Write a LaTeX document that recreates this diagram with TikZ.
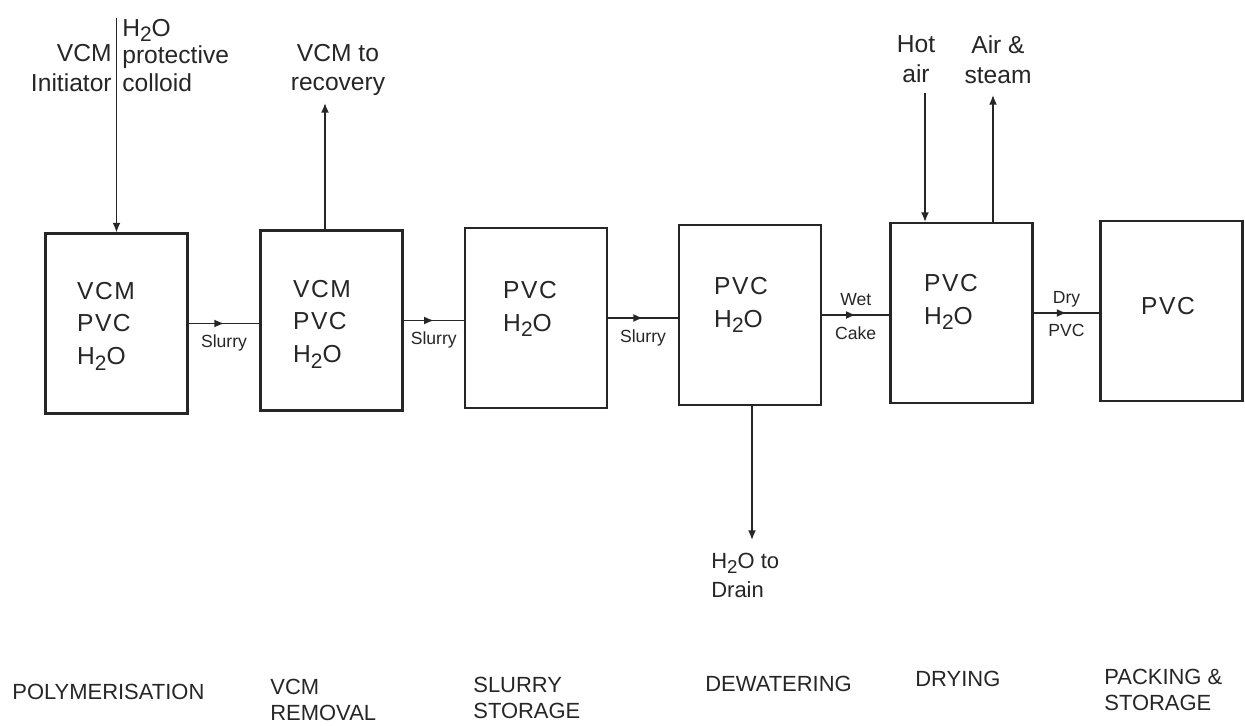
\documentclass[tikz,border=0pt]{standalone}
\usepackage{fontspec}
\setmainfont{Liberation Sans}
\newfontfamily\boxfont[LetterSpace=6]{Liberation Sans}
\usetikzlibrary{arrows.meta, decorations.markings}
\newcommand{\water}{H\raisebox{-0.4ex}{\scalebox{0.85}{2}}O}

\begin{document}
\begin{tikzpicture}[x=0.02cm, y=-0.02cm,
    stage/.style={draw=black!85, line width=1.2pt, minimum width=2.84cm, minimum height=3.6cm, inner sep=0pt},
    contents/.style={text=black!85, align=left, inner sep=0pt, font=\boxfont\fontsize{14}{18.7}\selectfont},
    feed/.style={text=black!85, inner sep=0pt, font=\fontsize{14}{17}\selectfont},
    flowlbl/.style={text=black!85, inner sep=0pt, text depth=0pt, font=\fontsize{10}{12}\selectfont},
    stagename/.style={text=black!85, inner sep=0pt, anchor=north west, align=left, font=\fontsize{12.5}{14.7}\selectfont},
    flow/.style={draw=black!85, line width=0.85pt},
    midarrow/.style={flow, postaction={decorate}, decoration={markings, mark=at position 0.5 with {\arrow{Latex[length=5.5pt,width=4.5pt]}}}},
    inflow/.style={flow, -{Latex[length=5.5pt,width=4.5pt]}}]
    \fill[white] (0,0) rectangle (1245,726);
    \useasboundingbox (0,0) rectangle (1245,726);

    % process units (the scan is slightly tilted, so each box sits a bit higher)
    \node[stage] (b1) at (116.5,323.5) {};
    \node[stage] (b2) at (331.5,320.5) {};
    \node[stage] (b3) at (536,318) {};
    \node[stage] (b4) at (750,315) {};
    \node[stage] (b5) at (961.5,313) {};
    \node[stage] (b6) at (1171.5,311) {};

    % what is inside each unit
    \node[contents] (b1t) at (106,326) {VCM\\PVC\\\water};
    \node[contents] (b2t) at (322,324) {VCM\\PVC\\\water};
    \node[contents] (b3t) at (530,309) {PVC\\\water};
    \node[contents] (b4t) at (741,305) {PVC\\\water};
    \node[contents] (b5t) at (951,302) {PVC\\\water};
    \node[contents] (b6t) at (1168,306) {PVC};

    % main line between the units
    \draw[midarrow] (b1.east) -- (b1.east -| b2.west) node[flowlbl, midway, below=6pt] {Slurry};
    \draw[midarrow] (b2.east) -- (b2.east -| b3.west) node[flowlbl, midway, below=6pt] {Slurry};
    \draw[midarrow] (b3.east) -- (b3.east -| b4.west) node[flowlbl, midway, below=6pt] {Slurry};
    \draw[midarrow] (b4.east) -- (b4.east -| b5.west) node[flowlbl, midway, above=5pt] {Wet} node[flowlbl, midway, below=6pt] {Cake};
    \draw[midarrow] (b5.east) -- (b5.east -| b6.west) node[flowlbl, midway, above=5pt] {Dry} node[flowlbl, midway, below=6pt] {PVC};

    % feed to the reactor
    \coordinate (charge) at (116.5,18);
    \node[feed, anchor=north east, align=right] (feedL) at (112,44) {VCM\\Initiator};
    \node[feed, anchor=north west, align=left, font=\fontsize{14}{15.6}\selectfont] (feedR) at (122,19) {\water\\protective\\colloid};
    \draw[inflow] (charge) -- (b1.north);

    % VCM stripped off
    \coordinate (rec) at (325,103);
    \node[feed, anchor=north, align=center, font=\fontsize{14}{16.4}\selectfont] (recL) at (338,44) {VCM to\\recovery};
    \draw[inflow] (b2.north -| rec) -- (rec);

    % dryer air in and out
    \coordinate (hot) at (925,93);
    \coordinate (steam) at (993,95);
    \node[feed, anchor=north, align=center] (hotL) at (916,35) {Hot\\air};
    \node[feed, anchor=north, align=center] (steamL) at (998,35) {Air \&\\steam};
    \draw[inflow] (hot) -- (hot |- b5.north);
    \draw[inflow] (steam |- b5.north) -- (steam);

    % water off the dewatering step
    \coordinate (drain) at (752,540);
    \node[feed, anchor=north west, align=left, font=\fontsize{12.5}{16.4}\selectfont] (drainL) at (711,553) {\water{} to\\Drain};
    \draw[inflow] (b4.south -| drain) -- (drain);

    % names of the steps
    \node[stagename] (s1) at (12,684) {POLYMERISATION};
    \node[stagename] (s2) at (270,679) {VCM\\REMOVAL};
    \node[stagename] (s3) at (473,677) {SLURRY\\STORAGE};
    \node[stagename] (s4) at (705,676) {DEWATERING};
    \node[stagename] (s5) at (915,671) {DRYING};
    \node[stagename] (s6) at (1104,669) {PACKING \&\\STORAGE};
\end{tikzpicture}
\end{document}
